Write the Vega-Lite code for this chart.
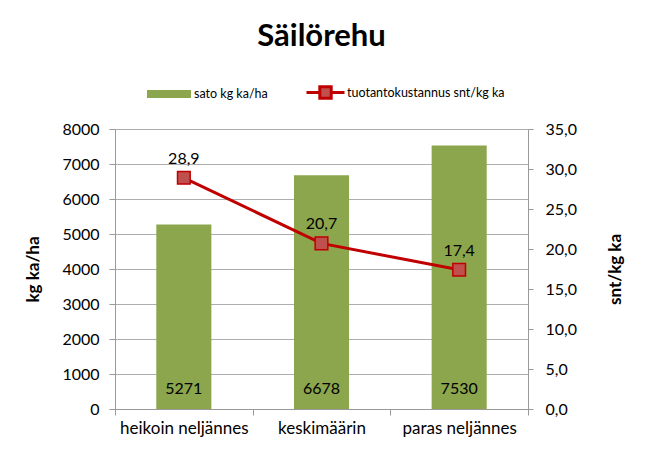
{
  "$schema": "https://vega.github.io/schema/vega-lite/v6.json",
  "width": 413,
  "height": 280,
  "autosize": {"type": "none"},
  "padding": {"left": 115, "top": 129, "right": 118, "bottom": 55},
  "background": "white",
  "title": {"text": "Säilörehu", "fontSize": 31, "font": "Lato", "fontWeight": "bold", "color": "#000000", "anchor": "middle", "offset": 19},
  "config": {
    "locale": {"number": {"decimal": ",", "thousands": "", "grouping": [3], "currency": ["", "€"]}},
    "font": "Lato",
    "view": {"stroke": null},
    "axis": {"labelFont": "Lato", "titleFont": "Lato", "labelColor": "#000000", "titleColor": "#000000", "domainColor": "#999999", "tickColor": "#999999", "gridColor": "#ADADAD", "labelOverlap": false},
    "legend": {"labelFont": "Lato", "labelFontSize": 12.5, "labelColor": "#000000", "title": null}
  },
  "data": {"values": [
    {"kat": "heikoin neljännes", "sato": 5271, "kust": 28.9},
    {"kat": "keskimäärin", "sato": 6678, "kust": 20.7},
    {"kat": "paras neljännes", "sato": 7530, "kust": 17.4}
  ]},
  "encoding": {
    "x": {"field": "kat", "type": "nominal", "sort": null,
      "scale": {"paddingInner": 0, "paddingOuter": 0},
      "axis": {"title": null, "labelAngle": 0, "labelFontSize": 17, "tickBand": "extent", "tickSize": 6, "labelPadding": 5}}
  },
  "layer": [
    {
      "layer": [
        {
          "mark": {"type": "bar", "width": {"band": 0.4}, "color": "#8BA64C"},
          "encoding": {
            "y": {"field": "sato", "type": "quantitative",
              "scale": {"domain": [0, 8000]},
              "axis": {"title": "kg ka/ha", "titleFontSize": 17, "titleFontWeight": "bold", "titlePadding": 19, "labelFontSize": 16, "values": [0,1000,2000,3000,4000,5000,6000,7000,8000], "format": "d", "tickSize": 6, "labelPadding": 10, "grid": true}},
            "fill": {"datum": "sato kg ka/ha", "type": "nominal",
              "scale": {"range": ["#8BA64C"]},
              "legend": {"orient": "none", "legendX": 32, "legendY": -57, "symbolType": "M-1,-0.18H1V0.18H-1Z", "symbolSize": 1936, "symbolStrokeWidth": 0, "labelOffset": 3}}
          }
        },
        {
          "mark": {"type": "text", "fontSize": 16, "color": "#000000", "baseline": "middle", "dy": -20},
          "encoding": {
            "y": {"datum": 0, "type": "quantitative",
              "axis": {"title": "kg ka/ha", "titleFontSize": 17, "titleFontWeight": "bold", "titlePadding": 19, "labelFontSize": 16, "values": [0,1000,2000,3000,4000,5000,6000,7000,8000], "format": "d", "tickSize": 6, "labelPadding": 10, "grid": true}},
            "text": {"field": "sato", "type": "quantitative", "format": "d"}
          }
        }
      ]
    },
    {
      "encoding": {
        "y": {"field": "kust", "type": "quantitative",
          "scale": {"domain": [0, 35]},
          "axis": {"orient": "right", "title": "snt/kg ka", "titleFontSize": 17, "titleFontWeight": "bold", "titleAngle": 270, "titlePadding": 48, "labelFontSize": 16, "values": [0,5,10,15,20,25,30,35], "format": ".1f", "tickSize": 5, "labelPadding": 12, "grid": false}}
      },
      "layer": [
        {
          "mark": {"type": "line", "strokeWidth": 3},
          "encoding": {
            "stroke": {"datum": "tuotantokustannus snt/kg ka", "type": "nominal",
              "scale": {"range": ["#C00000"]},
              "legend": {"orient": "none", "legendX": 190, "legendY": -57, "symbolType": "M-1,0H-0.3M0.3,0H1M-0.3,-0.3H0.3V0.3H-0.3Z", "symbolSize": 1444, "symbolStrokeWidth": 3, "symbolFillColor": "#C0504D", "labelOffset": 1}}
          }
        },
        {
          "mark": {"type": "point", "shape": "square", "size": 160, "filled": true, "fill": "#C0504D", "stroke": "#C00000", "strokeWidth": 1.5, "opacity": 1},
          "encoding": {}
        },
        {
          "mark": {"type": "text", "fontSize": 16, "color": "#000000", "baseline": "middle", "dy": -19},
          "encoding": {
            "text": {"field": "kust", "type": "quantitative", "format": ".1f"}
          }
        }
      ]
    }
  ],
  "resolve": {"scale": {"y": "independent"}}
}
